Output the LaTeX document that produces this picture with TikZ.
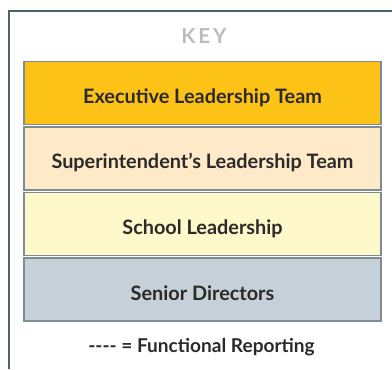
\documentclass[tikz,border=0pt]{standalone}
\usepackage{fontspec}
\setmainfont{Lato}
\definecolor{framecol}{HTML}{4D626C}
\definecolor{boxline}{HTML}{7E8C93}
\definecolor{execfill}{HTML}{FDC216}
\definecolor{suptfill}{HTML}{FEEAC8}
\definecolor{schoolfill}{HTML}{FFF8CB}
\definecolor{seniorfill}{HTML}{C5D0D8}
\definecolor{keygray}{HTML}{BBBCBE}
\definecolor{textcol}{HTML}{2B2A29}
\tikzset{every picture/.style={line width=0.75pt}}
\tikzset{
  keybox/.style={draw=boxline, line width=1pt, minimum width=357*0.75pt, minimum height=63*0.75pt, inner sep=0pt},
  keylabel/.style={anchor=base, inner sep=0.75pt, text=textcol, font=\fontsize{14.9}{17}\selectfont\bfseries}
}

\begin{document}
\begin{tikzpicture}[x=0.75pt,y=0.75pt,yscale=-1,xscale=1]
\useasboundingbox (0,0) rectangle (392,369);

%Frame
\draw [color=framecol, line width=1.6pt] (9,369) -- (9,11) -- (393,11) ;

% Title
\node [anchor=base, inner sep=0.75pt, text=keygray, font=\fontsize{15.5}{18}\selectfont\bfseries\addfontfeatures{LetterSpace=14}] (keytitle) at (204,43) {KEY};

%Boxes
\node [keybox, fill=execfill] (exec) at (202.5,93) {};
\node [keybox, fill=suptfill] (supt) at (202.5,158.5) {};
\node [keybox, fill=schoolfill] (school) at (202.5,224) {};
\node [keybox, fill=seniorfill] (senior) at (202.5,289.5) {};

% Text Node
\node [keylabel] (execlabel) at (202.5,103) {Executive Leadership Team};
% Text Node
\node [keylabel] (suptlabel) at (202.5,168) {Superintendent’s Leadership Team};
% Text Node
\node [keylabel] (schoollabel) at (202.5,234.5) {School Leadership};
% Text Node
\node [keylabel] (seniorlabel) at (202.5,300) {Senior Directors};
% Text Node
\node [keylabel, font=\fontsize{14.3}{17}\selectfont\bfseries] (functional) at (201.5,352) {-{}-{}-{}- = Functional Reporting};
\end{tikzpicture}
\end{document}
